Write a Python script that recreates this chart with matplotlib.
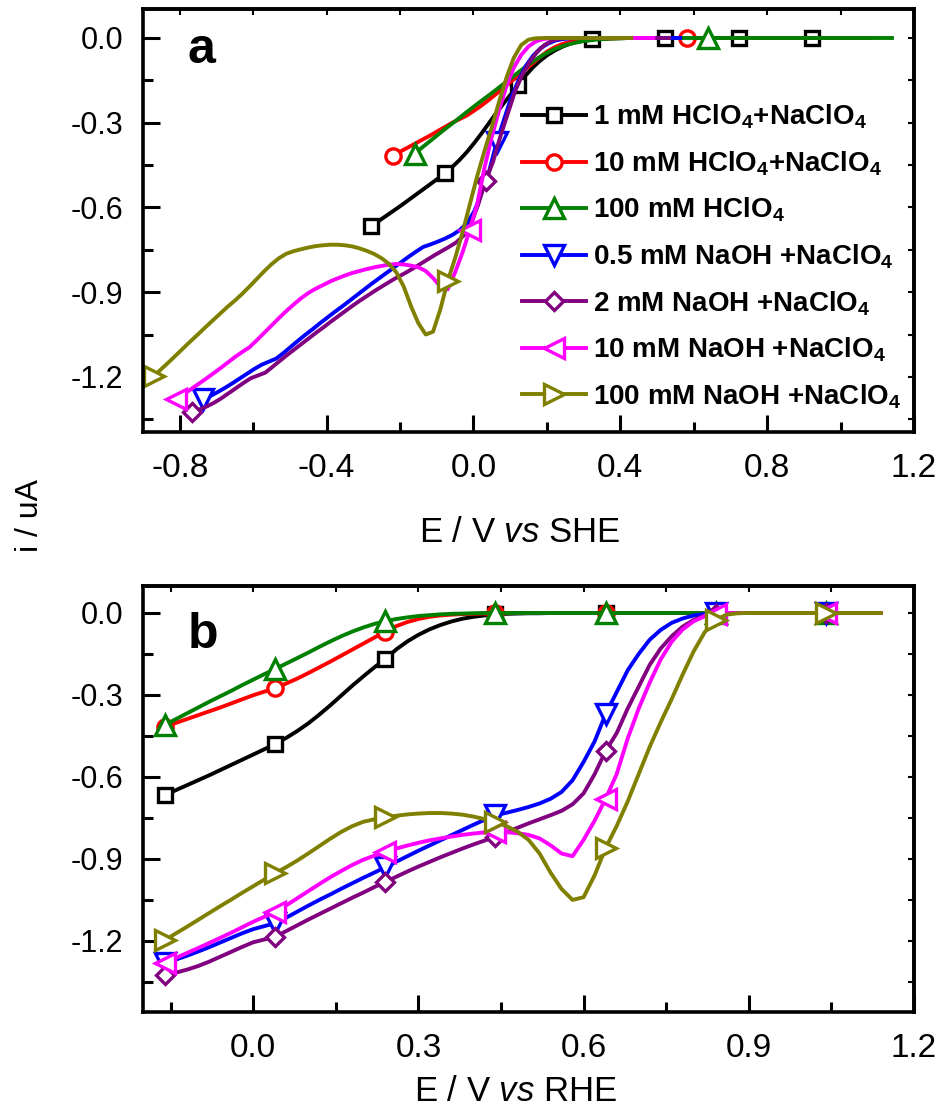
import numpy as np
import matplotlib
matplotlib.use("Agg")
import matplotlib.pyplot as plt
from matplotlib import font_manager

names = {f.name for f in font_manager.fontManager.ttflist}
narrow = "Liberation Sans Narrow" if "Liberation Sans Narrow" in names else "Liberation Sans"

plt.rcParams["font.family"] = ["Liberation Sans", "DejaVu Sans"]
plt.rcParams["mathtext.fontset"] = "custom"
plt.rcParams["mathtext.rm"] = "Liberation Sans"
plt.rcParams["mathtext.it"] = narrow + ":italic"
plt.rcParams["mathtext.bf"] = "Liberation Sans:bold"

# potential grid (V vs RHE), one row of 10 values = 0.2 V
E_rhe = np.round(np.arange(-0.16, 1.1401, 0.02), 2)

i_1mM_HClO4 = [
    -0.666, -0.648, -0.630, -0.612, -0.594, -0.575, -0.556, -0.537, -0.518, -0.499,
    -0.479, -0.457, -0.432, -0.404, -0.372, -0.338, -0.302, -0.266, -0.232, -0.199,
    -0.168, -0.133, -0.104, -0.080, -0.060, -0.044, -0.031, -0.021, -0.014, -0.009,
    -0.005, -0.003, -0.002, -0.001, -0.001, 0.0, 0.0, 0.0, 0.0, 0.0,
    0.0, 0.0, 0.0, 0.0, 0.0, 0.0, 0.0, 0.0, 0.0, 0.0,
    0.0, 0.0, 0.0, 0.0, 0.0, 0.0, 0.0, 0.0, 0.0, 0.0,
    0.0, 0.0, 0.0, 0.0, 0.0, 0.0]
i_10mM_HClO4 = [
    -0.417, -0.402, -0.388, -0.374, -0.360, -0.346, -0.331, -0.316, -0.301, -0.288,
    -0.275, -0.258, -0.240, -0.220, -0.199, -0.178, -0.156, -0.134, -0.112, -0.090,
    -0.068, -0.048, -0.033, -0.022, -0.014, -0.009, -0.006, -0.004, -0.003, -0.002,
    -0.001, 0.0, 0.0, 0.0, 0.0, 0.0, 0.0, 0.0, 0.0, 0.0,
    0.0, 0.0, 0.0, 0.0, 0.0, 0.0, 0.0, 0.0, 0.0, 0.0,
    0.0, 0.0, 0.0, 0.0, 0.0, 0.0, 0.0, 0.0, 0.0, 0.0,
    0.0, 0.0, 0.0, 0.0, 0.0, 0.0]
i_100mM_HClO4 = [
    -0.410, -0.388, -0.367, -0.346, -0.325, -0.305, -0.285, -0.264, -0.244, -0.224,
    -0.205, -0.185, -0.165, -0.145, -0.124, -0.104, -0.085, -0.068, -0.053, -0.040,
    -0.030, -0.022, -0.016, -0.011, -0.008, -0.005, -0.003, -0.002, -0.001, 0.0,
    0.0, 0.0, 0.0, 0.0, 0.0, 0.0, 0.0, 0.0, 0.0, 0.0,
    0.0, 0.0, 0.0, 0.0, 0.0, 0.0, 0.0, 0.0, 0.0, 0.0,
    0.0, 0.0, 0.0, 0.0, 0.0, 0.0, 0.0, 0.0, 0.0, 0.0,
    0.0, 0.0, 0.0, 0.0, 0.0, 0.0]
i_05mM_NaOH = [
    -1.280, -1.268, -1.254, -1.239, -1.223, -1.206, -1.189, -1.172, -1.157, -1.146,
    -1.135, -1.115, -1.093, -1.071, -1.050, -1.030, -1.009, -0.989, -0.969, -0.950,
    -0.930, -0.910, -0.890, -0.870, -0.851, -0.832, -0.813, -0.794, -0.775, -0.757,
    -0.740, -0.731, -0.721, -0.710, -0.697, -0.680, -0.655, -0.612, -0.545, -0.470,
    -0.370, -0.290, -0.210, -0.150, -0.098, -0.062, -0.036, -0.020, -0.009, -0.004,
    -0.001, 0.0, 0.0, 0.0, 0.0, 0.0, 0.0, 0.0, 0.0, 0.0,
    0.0, 0.0, 0.0, 0.0, 0.0, 0.0]
i_2mM_NaOH = [
    -1.325, -1.316, -1.305, -1.292, -1.276, -1.258, -1.240, -1.222, -1.205, -1.195,
    -1.185, -1.164, -1.143, -1.122, -1.102, -1.082, -1.062, -1.042, -1.023, -1.003,
    -0.984, -0.965, -0.946, -0.928, -0.911, -0.894, -0.878, -0.862, -0.847, -0.833,
    -0.818, -0.802, -0.786, -0.770, -0.755, -0.740, -0.724, -0.700, -0.660, -0.590,
    -0.505, -0.440, -0.350, -0.270, -0.190, -0.130, -0.085, -0.050, -0.025, -0.010,
    -0.003, 0.0, 0.0, 0.0, 0.0, 0.0, 0.0, 0.0, 0.0, 0.0,
    0.0, 0.0, 0.0, 0.0, 0.0, 0.0]
i_10mM_NaOH = [
    -1.280, -1.262, -1.244, -1.226, -1.208, -1.189, -1.170, -1.150, -1.130, -1.112,
    -1.095, -1.070, -1.044, -1.018, -0.992, -0.967, -0.944, -0.922, -0.903, -0.888,
    -0.875, -0.862, -0.851, -0.841, -0.832, -0.825, -0.818, -0.812, -0.807, -0.803,
    -0.800, -0.802, -0.806, -0.812, -0.825, -0.850, -0.880, -0.890, -0.830, -0.760,
    -0.680, -0.590, -0.460, -0.350, -0.255, -0.170, -0.105, -0.060, -0.030, -0.012,
    -0.004, 0.0, 0.0, 0.0, 0.0, 0.0, 0.0, 0.0, 0.0, 0.0,
    0.0, 0.0, 0.0, 0.0, 0.0, 0.0]
i_100mM_NaOH = [
    -1.197, -1.172, -1.148, -1.123, -1.098, -1.073, -1.049, -1.024, -1.000, -0.976,
    -0.952, -0.930, -0.906, -0.880, -0.853, -0.826, -0.801, -0.780, -0.764, -0.755,
    -0.748, -0.742, -0.737, -0.734, -0.732, -0.732, -0.734, -0.738, -0.745, -0.754,
    -0.765, -0.780, -0.800, -0.830, -0.880, -0.950, -1.010, -1.050, -1.040, -0.960,
    -0.860, -0.780, -0.690, -0.590, -0.490, -0.400, -0.315, -0.225, -0.140, -0.070,
    -0.025, -0.006, -0.001, 0.0, 0.0, 0.0, 0.0, 0.0, 0.0, 0.0,
    0.0, 0.0, 0.0, 0.0, 0.0, 0.0]

labels = [
    r"1 mM HClO$_\mathbf{4}$+NaClO$_\mathbf{4}$",
    r"10 mM HClO$_\mathbf{4}$+NaClO$_\mathbf{4}$",
    r"100 mM HClO$_\mathbf{4}$",
    r"0.5 mM NaOH +NaClO$_\mathbf{4}$",
    r"2 mM NaOH +NaClO$_\mathbf{4}$",
    r"10 mM NaOH +NaClO$_\mathbf{4}$",
    r"100 mM NaOH +NaClO$_\mathbf{4}$",
]
currents = [i_1mM_HClO4, i_10mM_HClO4, i_100mM_HClO4, i_05mM_NaOH,
            i_2mM_NaOH, i_10mM_NaOH, i_100mM_NaOH]
# RHE -> SHE offset
she_shift = [0.118, 0.059, 0.0, 0.577, 0.607, 0.65, 0.71]
colors = ["black", "#ff0000", "#008000", "#0000ff", "#800080", "#ff00ff", "#808000"]
markers = ["s", "o", "^", "v", "D", "<", ">"]
msizes = [10, 11, 15, 15, 9, 15, 15]

fig = plt.figure(figsize=(9.41, 11.09), dpi=100)
ax_a = fig.add_axes([0.1520, 0.6105, 0.8193, 0.3814])
ax_b = fig.add_axes([0.1520, 0.0875, 0.8193, 0.3841])


def style(ax, xlim, ylim, xmaj, xmin):
    ax.set_xlim(*xlim)
    ax.set_ylim(*ylim)
    ax.set_xticks(xmaj)
    ax.set_xticks(xmin, minor=True)
    ax.set_yticks([0.0, -0.3, -0.6, -0.9, -1.2])
    ax.set_yticks([-0.15, -0.45, -0.75, -1.05, -1.35], minor=True)
    ax.set_yticklabels(["0.0", "-0.3", "-0.6", "-0.9", "-1.2"])
    ax.set_xticklabels(["%.1f" % v for v in xmaj])
    for s in ax.spines.values():
        s.set_linewidth(2.6)
    ax.tick_params(which="major", direction="in", length=12, width=2.2)
    ax.tick_params(which="minor", direction="in", length=7, width=2.2)
    ax.tick_params(axis="y", labelsize=22, pad=14)
    ax.tick_params(axis="x", labelsize=24, pad=15)
    for t in ax.get_xticklabels():
        t.set_family(narrow)
    top = ax.secondary_xaxis("top")
    top.set_xticks(sorted(list(xmaj) + list(xmin)))
    top.tick_params(direction="in", length=4, width=1.5, labeltop=False)
    top.spines["top"].set_linewidth(2.6)
    right = ax.secondary_yaxis("right")
    right.set_yticks([0.0, -0.15, -0.3, -0.45, -0.6, -0.75, -0.9, -1.05, -1.2, -1.35])
    right.tick_params(direction="in", length=4, width=1.5, labelright=False)
    right.spines["right"].set_linewidth(2.6)


E = np.array(E_rhe)
handles = []
for k in range(7):
    y = np.array(currents[k])
    every_a = [0, 10, 20, 30, 40, 50, 60] if k == 0 else [0, 40]
    (h,) = ax_a.plot(E - she_shift[k], y, color=colors[k], lw=2.8,
                     marker=markers[k], ms=msizes[k], mew=2.4, mfc="white",
                     markevery=every_a, label=labels[k])
    handles.append(h)
    ax_b.plot(E, y, color=colors[k], lw=2.8, marker=markers[k], ms=msizes[k],
              mew=2.4, mfc="white", markevery=[0, 10, 20, 30, 40, 50, 60])

style(ax_a, (-0.9, 1.2), (-1.395, 0.1027), [-0.8, -0.4, 0.0, 0.4, 0.8, 1.2],
      [-0.6, -0.2, 0.2, 0.6, 1.0])
style(ax_b, (-0.2, 1.2), (-1.46, 0.0988), [0.0, 0.3, 0.6, 0.9, 1.2],
      [-0.15, 0.15, 0.45, 0.75, 1.05])

ax_a.text(0.058, 0.873, "a", transform=ax_a.transAxes, fontsize=36,
          fontweight="bold", va="baseline")
ax_b.text(0.058, 0.854, "b", transform=ax_b.transAxes, fontsize=36,
          fontweight="bold", va="baseline")

ax_a.legend(handles=handles, loc="upper left", bbox_to_anchor=(0.4916, 0.778),
            frameon=False, handlelength=2.3, handletextpad=0.25, labelspacing=0.65,
            borderpad=0, borderaxespad=0, numpoints=1,
            prop={"family": "Liberation Sans", "weight": "bold", "size": 20})

fig.text(0.552, 1 - 542 / 1109, r"E / V $\mathit{vs}$ SHE", ha="center",
         va="baseline", fontsize=25, family=narrow)
fig.text(0.548, 1 - 1101 / 1109, r"E / V $\mathit{vs}$ RHE", ha="center",
         va="baseline", fontsize=25, family=narrow)
fig.text(0.032, 0.535, "i / uA", rotation=90, ha="center", va="center",
         fontsize=23)

fig.savefig("out.png", dpi=100)
